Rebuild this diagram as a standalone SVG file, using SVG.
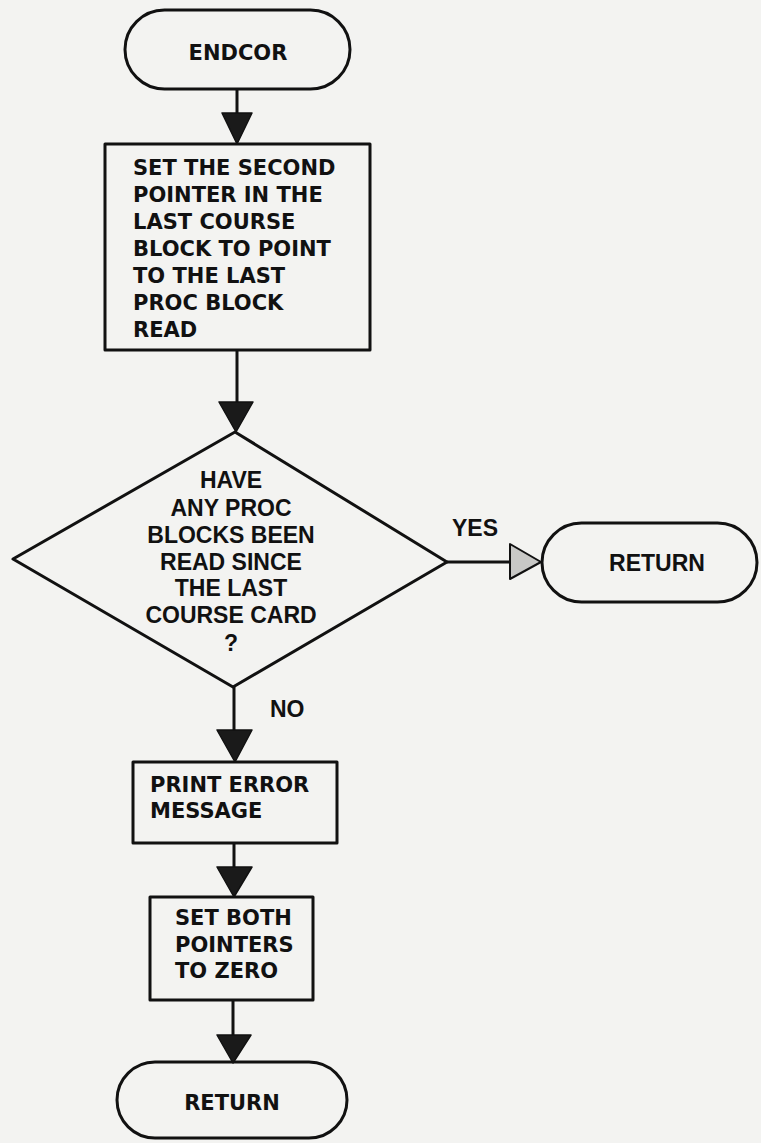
<svg xmlns="http://www.w3.org/2000/svg" width="761" height="1143" viewBox="0 0 761 1143">
<style>
.shape{fill:none;stroke:#111;stroke-width:3;stroke-linejoin:round}
.line{stroke:#111;stroke-width:3;fill:none}
.ahd{fill:#1a1a1a;stroke:#111;stroke-width:1.5;stroke-linejoin:round}
.ahl{fill:#c8c8c6;stroke:#111;stroke-width:2;stroke-linejoin:round}
.bt{font-family:"DejaVu Sans",sans-serif;font-weight:bold;font-size:21px;fill:#111}
.dt{font-family:"Liberation Sans",Arial,sans-serif;font-weight:bold;font-size:23px;fill:#111}
.mid{text-anchor:middle}
</style>
<rect width="761" height="1143" fill="#f3f3f1"/>
<g id="connectors">
<line class="line" x1="237" y1="89" x2="237" y2="114"/>
<polygon class="ahd" points="222,113 252,113 237,144"/>
<line class="line" x1="237" y1="350" x2="237" y2="403"/>
<polygon class="ahd" points="219,402 253,402 236,432"/>
<line class="line" x1="447" y1="562" x2="511" y2="562"/>
<polygon class="ahl" points="510,544 510,579 541,562"/>
<line class="line" x1="234" y1="687" x2="234" y2="731"/>
<polygon class="ahd" points="217,730 252,730 235,762"/>
<line class="line" x1="234" y1="843" x2="234" y2="868"/>
<polygon class="ahd" points="217,867 252,867 234,897"/>
<line class="line" x1="233" y1="1000" x2="233" y2="1036"/>
<polygon class="ahd" points="217,1035 251,1035 233,1063"/>
<text class="dt" x="452" y="536">YES</text>
<text class="dt" x="270" y="717">NO</text>
</g>
<g id="endcor">
<rect class="shape" x="125" y="10" width="225" height="79" rx="39.5"/>
<text class="bt mid" x="238" y="60">ENDCOR</text>
</g>
<g id="set-second-pointer">
<rect class="shape" x="105" y="144" width="265" height="206"/>
<text class="bt" x="133" y="175">SET THE SECOND</text>
<text class="bt" x="133" y="202">POINTER IN THE</text>
<text class="bt" x="133" y="229">LAST COURSE</text>
<text class="bt" x="133" y="256">BLOCK TO POINT</text>
<text class="bt" x="133" y="283">TO THE LAST</text>
<text class="bt" x="133" y="310">PROC BLOCK</text>
<text class="bt" x="133" y="337">READ</text>
</g>
<g id="decision">
<polygon class="shape" points="235,432 447,562 233,687 13,559"/>
<text class="dt mid" x="231" y="488">HAVE</text>
<text class="dt mid" x="231" y="516">ANY PROC</text>
<text class="dt mid" x="231" y="543">BLOCKS BEEN</text>
<text class="dt mid" x="231" y="570">READ SINCE</text>
<text class="dt mid" x="231" y="596">THE LAST</text>
<text class="dt mid" x="231" y="623">COURSE CARD</text>
<text class="dt mid" x="231" y="651">?</text>
</g>
<g id="return-yes">
<rect class="shape" x="542" y="523" width="215" height="79" rx="39.5"/>
<text class="dt mid" x="657" y="571">RETURN</text>
</g>
<g id="print-error">
<rect class="shape" x="133" y="762" width="204" height="81"/>
<text class="bt" x="150" y="792">PRINT ERROR</text>
<text class="bt" x="150" y="818">MESSAGE</text>
</g>
<g id="set-both">
<rect class="shape" x="150" y="897" width="163" height="103"/>
<text class="bt" x="175" y="925">SET BOTH</text>
<text class="bt" x="175" y="952">POINTERS</text>
<text class="bt" x="175" y="978">TO ZERO</text>
</g>
<g id="return-end">
<rect class="shape" x="117" y="1062" width="230" height="76" rx="38"/>
<text class="bt mid" x="232" y="1110">RETURN</text>
</g>
</svg>
